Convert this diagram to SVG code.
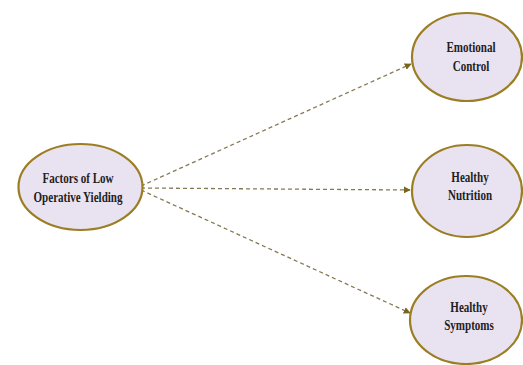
<svg xmlns="http://www.w3.org/2000/svg" width="523" height="365" viewBox="0 0 523 365">
<defs>
<style>
.node ellipse{fill:#e9e2f1;stroke:#9b7d22;stroke-width:2.2}
.node text{font-family:"Liberation Serif","Times New Roman",serif;font-weight:bold;font-size:13px;fill:#1e1e1e;text-anchor:middle}
.edge{stroke:#857a55;stroke-width:1.3;stroke-dasharray:4 3;fill:none;marker-end:url(#arr)}
</style>
<marker id="arr" viewBox="0 0 10 10" refX="9" refY="5" markerWidth="7" markerHeight="7" markerUnits="userSpaceOnUse" orient="auto">
<path d="M0,0 L10,5 L0,10 z" fill="#7a6420"/>
</marker>
</defs>
<rect width="523" height="365" fill="#ffffff"/>
<g id="connectors">
<line class="edge" x1="141" y1="186" x2="411" y2="64"/>
<line class="edge" x1="141" y1="188" x2="410" y2="190"/>
<line class="edge" x1="141" y1="190" x2="410" y2="313"/>
</g>
<g id="factors" class="node">
<ellipse cx="80.5" cy="187" rx="62" ry="43"/>
<text transform="translate(78,183) scale(0.85,1.15)">Factors of Low</text>
<text transform="translate(78,202) scale(0.85,1.15)">Operative Yielding</text>
</g>
<g id="emotional" class="node">
<ellipse cx="467" cy="57" rx="55" ry="44"/>
<text transform="translate(471,52) scale(0.85,1.15)">Emotional</text>
<text transform="translate(471,71) scale(0.85,1.15)">Control</text>
</g>
<g id="nutrition" class="node">
<ellipse cx="467" cy="191" rx="55" ry="46"/>
<text transform="translate(470,182) scale(0.85,1.15)">Healthy</text>
<text transform="translate(470,200) scale(0.85,1.15)">Nutrition</text>
</g>
<g id="symptoms" class="node">
<ellipse cx="466" cy="320" rx="56" ry="44"/>
<text transform="translate(469,312) scale(0.85,1.15)">Healthy</text>
<text transform="translate(469,330) scale(0.85,1.15)">Symptoms</text>
</g>
</svg>
